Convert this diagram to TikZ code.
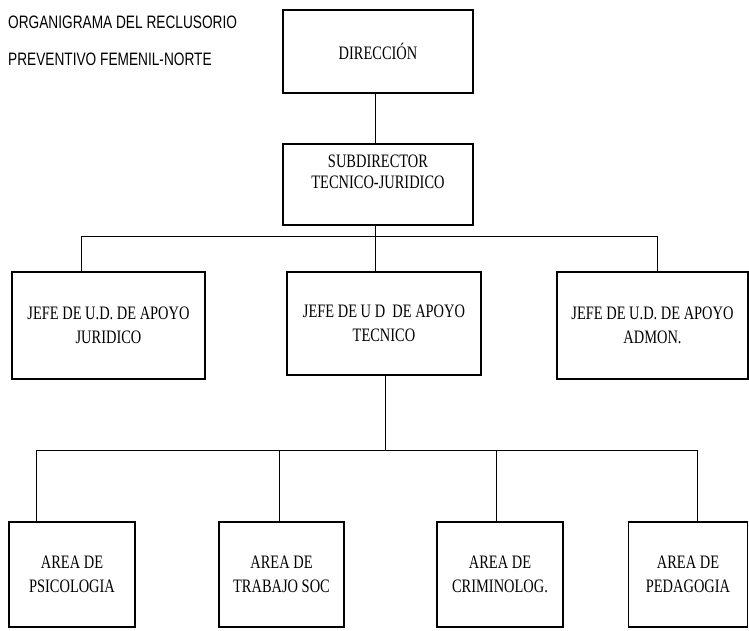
\documentclass[tikz,border=0pt]{standalone}
\usepackage{fontspec}
\newfontfamily\titlefont[FakeStretch=0.76]{Liberation Sans}
\newfontfamily\boxfont[FakeStretch=0.76]{Liberation Serif}

\tikzset{
    cargo/.style={draw, line width=1.3pt, align=center, inner sep=0pt,
        font=\boxfont\fontsize{19}{23.5}\selectfont},
    titulo/.style={anchor=base west, inner sep=0pt,
        font=\titlefont\fontsize{18}{22}\selectfont},
    linea/.style={line width=1pt}
}

\begin{document}
\begin{tikzpicture}[x=1pt, y=-1pt]

    % Fix the size of the picture (y runs downwards)
    \useasboundingbox (0, 0) rectangle (749, 630);

    % Title in the top left corner
    \node[titulo] (titulo1) at (8, 28) {ORGANIGRAMA DEL RECLUSORIO};
    \node[titulo] (titulo2) at (8, 65) {PREVENTIVO FEMENIL-NORTE};

    % Top of the chart
    \node[cargo, minimum width=190pt, minimum height=83pt] (direc) at (378, 51.5) {DIRECCIÓN};
    % text sits in the upper part of this box
    \node[cargo, minimum width=190pt, minimum height=81pt, text height=34pt, text depth=25.5pt,
        font=\boxfont\fontsize{19}{21.5}\selectfont] (subdir) at (378, 184.5) {SUBDIRECTOR\\TECNICO-JURIDICO};

    % Second level
    \node[cargo, minimum width=193pt, minimum height=107pt] (jur) at (108.5, 325.5) {JEFE DE U.D. DE APOYO\\JURIDICO};
    \node[cargo, minimum width=194pt, minimum height=103pt] (tec) at (384, 323.5) {JEFE DE U D \ DE APOYO\\TECNICO};
    \node[cargo, minimum width=191pt, minimum height=107pt] (adm) at (652.5, 325.5) {JEFE DE U.D. DE APOYO\\ADMON.};

    % Third level
    \node[cargo, minimum width=126pt, minimum height=105pt] (psi) at (72, 574.5) {AREA DE\\PSICOLOGIA};
    \node[cargo, minimum width=125pt, minimum height=105pt] (tra) at (281.5, 574.5) {AREA DE\\TRABAJO SOC};
    \node[cargo, minimum width=126pt, minimum height=105pt] (cri) at (500, 574.5) {AREA DE\\CRIMINOLOG.};
    \node[cargo, minimum width=119pt, minimum height=105pt] (ped) at (688, 574.5) {AREA DE\\PEDAGOGIA};

    % Horizontal bus lines
    \coordinate (bus1) at (0, 236);
    \coordinate (bus2) at (0, 450);

    % Points where the lines reach the boxes
    \coordinate (jurtop) at ([xshift=-27pt]jur.north);
    \coordinate (admtop) at ([xshift=4.5pt]adm.north);
    \coordinate (psitop) at ([xshift=-36pt]psi.north);
    \coordinate (tratop) at ([xshift=-2.5pt]tra.north);
    \coordinate (critop) at ([xshift=-4pt]cri.north);
    \coordinate (pedtop) at ([xshift=9pt]ped.north);

    % Direccion down to the second level
    \draw[linea] ([xshift=-3pt]direc.south) -- ([xshift=-3pt]subdir.north);
    \draw[linea] ([xshift=-3pt]subdir.south) -- ([xshift=-9pt]tec.north);
    \draw[linea] (jurtop) -- (jurtop |- bus1) -- (admtop |- bus1) -- (admtop);

    % Apoyo tecnico down to the areas
    \draw[linea] ([xshift=1pt]tec.south) -- ([xshift=1pt]tec.south |- bus2);
    \draw[linea] (psitop) -- (psitop |- bus2) -- (pedtop |- bus2) -- (pedtop);
    \draw[linea] (tratop |- bus2) -- (tratop);
    \draw[linea] (critop |- bus2) -- (critop);

\end{tikzpicture}
\end{document}
